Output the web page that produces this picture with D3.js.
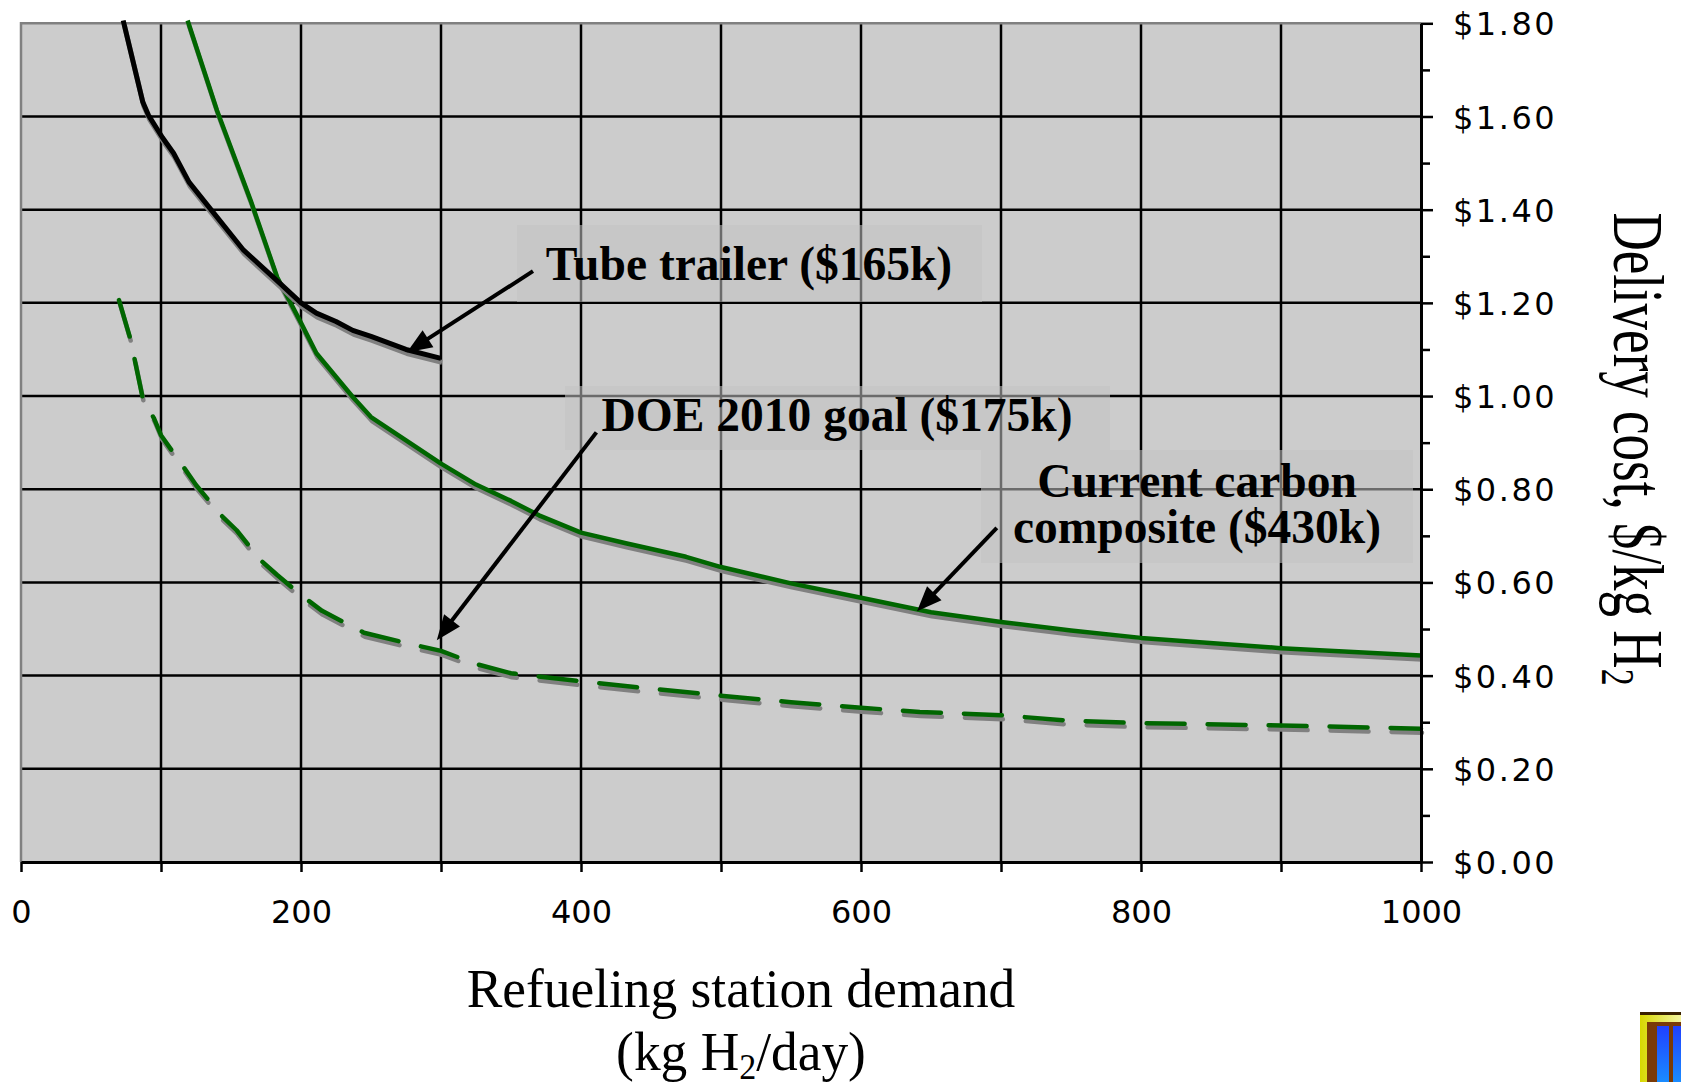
<!DOCTYPE html>
<html>
<head>
<meta charset="utf-8">
<script src="https://cdn.jsdelivr.net/npm/d3@7"></script>
<style>
    body { margin: 0; background: #fff; }
    #chart-container { width: 1681px; height: 1082px; }
    .tick-label { font-family: 'DejaVu Sans', Verdana, sans-serif; font-size: 32px; fill: #000; }
    .y-tick-label { letter-spacing: 2.5px; }
    .axis-title { font-family: 'Liberation Serif', 'Times New Roman', serif; fill: #000; }
    .note-text { font-family: 'Liberation Serif', 'Times New Roman', serif; font-weight: bold; font-size: 47.5px; fill: #000; }
</style>
</head>
<body>
<div id="chart-container"></div>
<script>
//data
var demandTicks = [0, 100, 200, 300, 400, 500, 600, 700, 800, 900, 1000];
var demandLabels = ['0', '', '200', '', '400', '', '600', '', '800', '', '1000'];
var costTicks = [0, 0.1, 0.2, 0.3, 0.4, 0.5, 0.6, 0.7, 0.8, 0.9, 1.0, 1.1, 1.2, 1.3, 1.4, 1.5, 1.6, 1.7, 1.8];
var costLabels = ['$0.00', '', '$0.20', '', '$0.40', '', '$0.60', '', '$0.80', '', '$1.00', '', '$1.20', '', '$1.40', '', '$1.60', '', '$1.80'];

// [kg H2/day, $/kg H2]
var tubeTrailer = [[73, 1.806], [87, 1.631], [91, 1.603], [101, 1.555], [109, 1.521], [120, 1.459],
    [140, 1.384], [159, 1.313], [185, 1.242], [200, 1.20], [211, 1.178], [225, 1.16], [237, 1.141],
    [250, 1.128], [275, 1.10], [300, 1.081]];

var carbonComposite = [[119, 1.806], [140, 1.613], [164, 1.42], [183, 1.255], [199, 1.163], [211, 1.092],
    [237, 0.998], [250, 0.955], [275, 0.905], [300, 0.855], [325, 0.81], [350, 0.775], [370, 0.744],
    [400, 0.707], [432, 0.684], [475, 0.655], [500, 0.633], [550, 0.598], [600, 0.567], [650, 0.536],
    [700, 0.515], [750, 0.497], [800, 0.481], [900, 0.459], [1000, 0.443]];

var doeGoal = [[70, 1.206], [78, 1.124], [81, 1.081], [87, 0.995], [95, 0.952], [100, 0.916], [116, 0.848],
    [125, 0.809], [143, 0.744], [154, 0.712], [171, 0.648], [183, 0.616], [200, 0.573], [215, 0.539],
    [245, 0.492], [275, 0.47], [300, 0.453], [325, 0.425], [350, 0.405], [400, 0.388], [450, 0.372],
    [500, 0.357], [550, 0.343], [600, 0.331], [642, 0.322], [700, 0.315], [750, 0.303], [800, 0.298],
    [900, 0.293], [1000, 0.286]];

//containers
var chartContainer = d3.select('#chart-container'),
    chartSvg,
    chartG;

//sizes
var outerW = 1681,
    outerH = 1082,
    margin = { left: 21, right: 260, top: 23.3, bottom: 220 },
    plotW,
    plotH;

//scales
var xScale, yScale;

var green = '#006600',
    shadowGrey = '#808080';

// callouts: boxes in page pixels, arrows in data units
var notes = [
    { lines: ['Tube trailer ($165k)'], box: [517, 225, 465, 77], textX: 749, baselines: [280],
      arrowFrom: [365.7, 1.268], arrowTo: [275.7, 1.094] },
    { lines: ['DOE 2010 goal ($175k)'], box: [565, 386, 545, 64], textX: 837, baselines: [431],
      arrowFrom: [411, 0.922], arrowTo: [297, 0.476] },
    { lines: ['Current carbon', 'composite ($430k)'], box: [981, 450, 432, 113], textX: 1197, baselines: [497, 543],
      arrowFrom: [697, 0.717], arrowTo: [640, 0.538] }
];

function drawSeries(data, color, width, dashed) {
    var line = d3.line()
        .x(function(d) { return xScale(d[0]); })
        .y(function(d) { return yScale(d[1]); });

    [[shadowGrey, 'translate(1,4)'], [color, null]].forEach(function(s) {
        var p = chartG.append('path')
            .datum(data)
            .attr('d', line)
            .attr('transform', s[1])
            .attr('fill', 'none')
            .attr('stroke', s[0])
            .attr('stroke-width', width)
            .attr('stroke-linejoin', 'round')
            .attr('stroke-linecap', dashed ? 'round' : 'butt');
        if (dashed) p.attr('stroke-dasharray', '38,23');
    });
}

function drawArrow(from, to) {
    var x1 = xScale(from[0]), y1 = yScale(from[1]),
        x2 = xScale(to[0]), y2 = yScale(to[1]);
    var ang = Math.atan2(y2 - y1, x2 - x1),
        headL = 25, headW = 10;
    var bx = x2 - headL * Math.cos(ang), by = y2 - headL * Math.sin(ang);

    chartSvg.append('line')
        .attr('x1', x1).attr('y1', y1)
        .attr('x2', bx + 4 * Math.cos(ang)).attr('y2', by + 4 * Math.sin(ang))
        .attr('stroke', '#000')
        .attr('stroke-width', 4);

    chartSvg.append('path')
        .attr('d', 'M' + x2 + ',' + y2 +
            'L' + (bx - headW * Math.sin(ang)) + ',' + (by + headW * Math.cos(ang)) +
            'L' + (bx + headW * Math.sin(ang)) + ',' + (by - headW * Math.cos(ang)) + 'Z')
        .attr('fill', '#000');
}

function drawNote(note) {
    chartSvg.append('rect')
        .attr('x', note.box[0]).attr('y', note.box[1])
        .attr('width', note.box[2]).attr('height', note.box[3])
        .attr('fill', 'rgb(195,195,195)')
        .attr('fill-opacity', 0.55);

    note.lines.forEach(function(t, i) {
        chartSvg.append('text')
            .attr('class', 'note-text')
            .attr('x', note.textX)
            .attr('y', note.baselines[i])
            .attr('text-anchor', 'middle')
            .text(t);
    });
}

function buildChart() {
    chartSvg = chartContainer.append('svg')
        .attr('width', outerW)
        .attr('height', outerH);

    chartG = chartSvg.append('g');

    // plot area
    chartG.append('rect')
        .attr('x', xScale(0)).attr('y', yScale(1.8))
        .attr('width', plotW).attr('height', plotH)
        .attr('fill', '#cccccc');

    // gridlines
    chartG.selectAll('.v-grid')
        .data(demandTicks.filter(function(d) { return d > 0 && d < 1000; }))
        .enter().append('line')
        .attr('class', 'v-grid')
        .attr('x1', function(d) { return xScale(d); })
        .attr('x2', function(d) { return xScale(d); })
        .attr('y1', yScale(1.8)).attr('y2', yScale(0))
        .attr('stroke', '#000').attr('stroke-width', 2.5);

    chartG.selectAll('.h-grid')
        .data(costTicks.filter(function(d, i) { return i % 2 === 0 && d > 0 && d < 1.8; }))
        .enter().append('line')
        .attr('class', 'h-grid')
        .attr('y1', function(d) { return yScale(d); })
        .attr('y2', function(d) { return yScale(d); })
        .attr('x1', xScale(0)).attr('x2', xScale(1000))
        .attr('stroke', '#000').attr('stroke-width', 2.5);

    // plot border (top, left)
    chartG.append('path')
        .attr('d', 'M' + xScale(0) + ',' + yScale(0) + 'V' + yScale(1.8) + 'H' + xScale(1000))
        .attr('fill', 'none')
        .attr('stroke', '#808080')
        .attr('stroke-width', 2.5);

    // series
    drawSeries(doeGoal, green, 4.5, true);
    drawSeries(carbonComposite, green, 4.5, false);
    drawSeries(tubeTrailer, '#000', 5, false);

    // x axis
    var xAxis = d3.axisBottom(xScale)
        .tickValues(demandTicks)
        .tickSize(10)
        .tickSizeOuter(0)
        .tickFormat(function(d, i) { return demandLabels[i]; });

    var xAxisG = chartG.append('g')
        .attr('transform', 'translate(0,' + yScale(0) + ')')
        .call(xAxis);
    xAxisG.attr('font-size', null).attr('font-family', null);
    xAxisG.select('.domain').attr('stroke', '#000').attr('stroke-width', 3);
    xAxisG.selectAll('.tick line').attr('stroke', '#000').attr('stroke-width', 2.5);
    xAxisG.selectAll('.tick text')
        .attr('class', 'tick-label')
        .attr('y', 61).attr('dy', 0);

    // y axis (right)
    var yAxis = d3.axisRight(yScale)
        .tickValues(costTicks)
        .tickSize(12)
        .tickSizeOuter(0)
        .tickFormat(function(d, i) { return costLabels[i]; });

    var yAxisG = chartG.append('g')
        .attr('transform', 'translate(' + xScale(1000) + ',0)')
        .call(yAxis);
    yAxisG.attr('font-size', null).attr('font-family', null);
    yAxisG.select('.domain').attr('stroke', '#000').attr('stroke-width', 3);
    yAxisG.selectAll('.tick line')
        .attr('stroke', '#000').attr('stroke-width', 2.5)
        .attr('x2', function(d, i) { return i % 2 === 0 ? 12 : 9; });
    yAxisG.selectAll('.tick text')
        .attr('class', 'tick-label y-tick-label')
        .attr('x', 32).attr('dy', '0.36em');

    // axis titles
    var xTitle = chartSvg.append('g')
        .attr('class', 'axis-title')
        .attr('font-size', 53.4);
    xTitle.append('text')
        .attr('text-anchor', 'middle')
        .attr('transform', 'translate(741,1007) scale(1,1.04)')
        .text('Refueling station demand');
    var xTitle2 = xTitle.append('text')
        .attr('text-anchor', 'middle')
        .attr('transform', 'translate(741,1070) scale(1,1.04)');
    xTitle2.append('tspan').text('(kg H');
    xTitle2.append('tspan').attr('font-size', 34).attr('dy', 9).text('2');
    xTitle2.append('tspan').attr('dy', -9).text('/day)');

    var yTitle = chartSvg.append('text')
        .attr('class', 'axis-title')
        .attr('font-size', 53)
        .attr('text-anchor', 'middle')
        .attr('transform', 'translate(1614,449) rotate(90) scale(1,1.35)');
    yTitle.append('tspan').text('Delivery cost, $/kg H');
    yTitle.append('tspan').attr('font-size', 34).attr('dy', 9).text('2');

    // callouts
    notes.forEach(drawNote);
    notes.forEach(function(n) { drawArrow(n.arrowFrom, n.arrowTo); });

    // slide decoration, bottom right
    var defs = chartSvg.append('defs');
    var gy = defs.append('linearGradient').attr('id', 'frame-grad')
        .attr('x1', 0).attr('y1', 0).attr('x2', 1).attr('y2', 0);
    gy.append('stop').attr('offset', 0).attr('stop-color', '#d8d800');
    gy.append('stop').attr('offset', 1).attr('stop-color', '#f4f4a0');
    var gb = defs.append('linearGradient').attr('id', 'blue-grad')
        .attr('x1', 0).attr('y1', 0).attr('x2', 0).attr('y2', 1);
    gb.append('stop').attr('offset', 0).attr('stop-color', '#2040ff');
    gb.append('stop').attr('offset', 1).attr('stop-color', '#1a8cff');

    var deco = chartSvg.append('g');
    deco.append('rect').attr('x', 1640).attr('y', 1012).attr('width', 41).attr('height', 70).attr('fill', 'url(#frame-grad)');
    deco.append('rect').attr('x', 1640).attr('y', 1012).attr('width', 41).attr('height', 3).attr('fill', '#3a2000');
    deco.append('rect').attr('x', 1647).attr('y', 1022).attr('width', 34).attr('height', 60).attr('fill', '#7a3a08');
    deco.append('rect').attr('x', 1657).attr('y', 1026).attr('width', 12).attr('height', 56).attr('fill', 'url(#blue-grad)');
    deco.append('rect').attr('x', 1673).attr('y', 1026).attr('width', 8).attr('height', 56).attr('fill', 'url(#blue-grad)');
}

function setupChart() {
    plotW = outerW - margin.left - margin.right;
    plotH = outerH - margin.top - margin.bottom;

    xScale = d3.scaleLinear().domain([0, 1000]).range([margin.left, margin.left + plotW]);
    yScale = d3.scaleLinear().domain([0, 1.8]).range([margin.top + plotH, margin.top]);

    buildChart();
}

setupChart();
</script>
</body>
</html>
